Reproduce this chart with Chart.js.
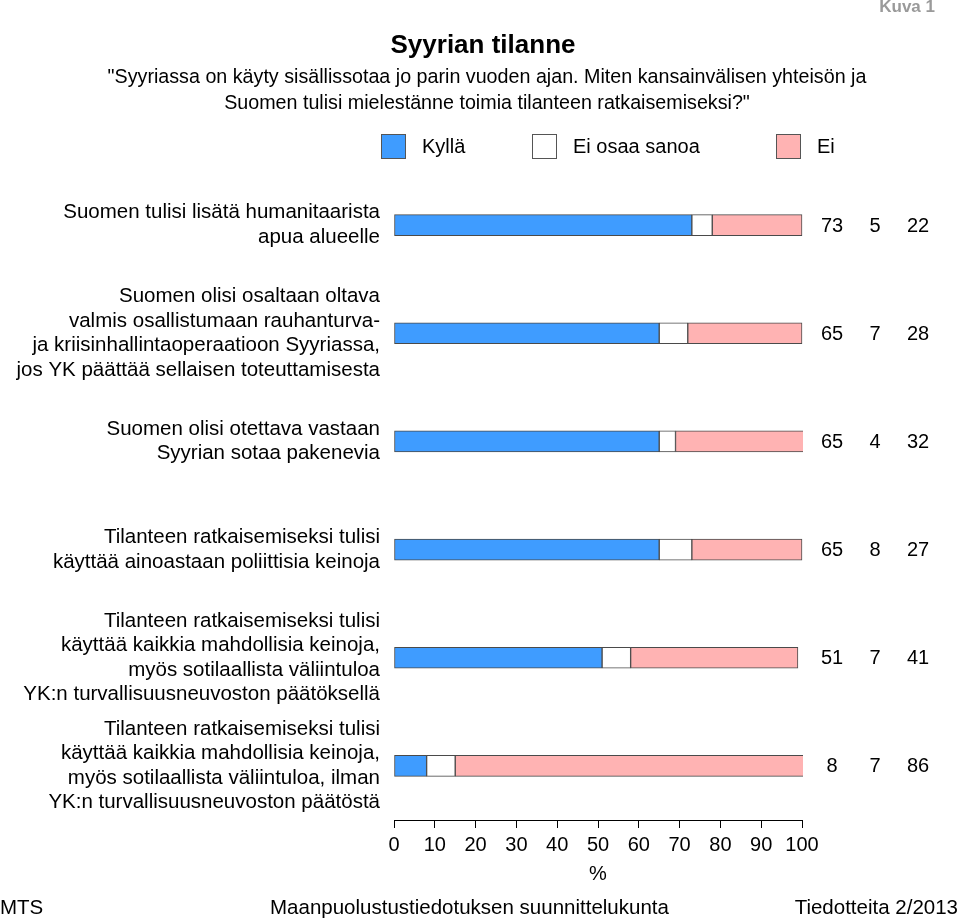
<!DOCTYPE html>
<html>
<head>
<meta charset="utf-8">
<script src="https://cdn.jsdelivr.net/npm/chart.js@4.4.0/dist/chart.umd.min.js"></script>
<style>
  html, body { margin: 0; padding: 0; background: #fff; }
  #wrap { position: relative; width: 960px; height: 920px; overflow: hidden; }
  #chart { position: absolute; left: 0; top: 0; }
  .narrow { position: absolute; white-space: nowrap; color: #000;
    font-family: "Liberation Sans Narrow", "Arial Narrow", "Liberation Sans", Arial, sans-serif; }
  #kuva { right: 25px; top: -3px; font-size: 17px; line-height: 20px; font-weight: bold; color: #9a9a9a; }
  #title { left: 0; width: 966px; top: 29px; text-align: center; font-size: 26px; line-height: 30px; font-weight: bold; }
  #subtitle { left: 0; width: 974px; top: 63px; text-align: center; font-size: 19.7px; line-height: 26px; }
  .foot { top: 895px; font-size: 20.5px; line-height: 24px; }
</style>
</head>
<body>
<div id="wrap">
  <canvas id="chart" width="960" height="920"></canvas>
  <div id="kuva" class="narrow">Kuva 1</div>
  <div id="title" class="narrow">Syyrian tilanne</div>
  <div id="subtitle" class="narrow">"Syyriassa on käyty sisällissotaa jo parin vuoden ajan. Miten kansainvälisen yhteisön ja<br>Suomen tulisi mielestänne toimia tilanteen ratkaisemiseksi?"</div>
  <div class="narrow foot" style="left:0">MTS</div>
  <div class="narrow foot" style="left:270px">Maanpuolustustiedotuksen suunnittelukunta</div>
  <div class="narrow foot" style="right:2px">Tiedotteita 2/2013</div>
</div>
<script>
// kysymykset (rivit)
const categories = [
  ["Suomen tulisi lisätä humanitaarista", "apua alueelle"],
  ["Suomen olisi osaltaan oltava", "valmis osallistumaan rauhanturva-", "ja kriisinhallintaoperaatioon Syyriassa,", "jos YK päättää sellaisen toteuttamisesta"],
  ["Suomen olisi otettava vastaan", "Syyrian sotaa pakenevia"],
  ["Tilanteen ratkaisemiseksi tulisi", "käyttää ainoastaan poliittisia keinoja"],
  ["Tilanteen ratkaisemiseksi tulisi", "käyttää kaikkia mahdollisia keinoja,", "myös sotilaallista väliintuloa", "YK:n turvallisuusneuvoston päätöksellä"],
  ["Tilanteen ratkaisemiseksi tulisi", "käyttää kaikkia mahdollisia keinoja,", "myös sotilaallista väliintuloa, ilman", "YK:n turvallisuusneuvoston päätöstä"]
];
const seriesNames = ["Kyllä", "Ei osaa sanoa", "Ei"];
const kylla = [73, 65, 65, 65, 51, 8];
const eiOsaa = [5, 7, 4, 8, 7, 7];
const ei = [22, 28, 32, 27, 41, 86];
const xTicks = [0, 10, 20, 30, 40, 50, 60, 70, 80, 90, 100];

const colors = ["#3f9cff", "#ffffff", "#ffb3b3"];
const FONT = "'Liberation Sans', Arial, sans-serif";

// legend + numbers on the right, drawn on the canvas
const extras = {
  id: "extras",
  afterDraw(chart) {
    const ctx = chart.ctx;
    const area = chart.chartArea;
    const yScale = chart.scales.y;
    ctx.save();
    ctx.font = "20px " + FONT;
    ctx.textBaseline = "middle";

    // legend
    const legendX = [381, 532, 776];
    chart.data.datasets.forEach((ds, i) => {
      ctx.fillStyle = ds.backgroundColor;
      ctx.fillRect(legendX[i], 134, 24, 24);
      ctx.strokeStyle = "#555";
      ctx.lineWidth = 1;
      ctx.strokeRect(legendX[i] + 0.5, 134.5, 24, 24);
      ctx.fillStyle = "#000";
      ctx.textAlign = "left";
      ctx.fillText(ds.label, legendX[i] + 41, 147);
    });

    // values
    ctx.textAlign = "center";
    categories.forEach((c, i) => {
      const y = yScale.getPixelForValue(i);
      chart.data.datasets.forEach((ds, j) => {
        ctx.fillText(String(ds.data[i]), area.right + 30 + j * 43, y + 1);
      });
    });
    ctx.restore();
  }
};

new Chart(document.getElementById("chart"), {
  type: "bar",
  data: {
    labels: categories,
    datasets: [kylla, eiOsaa, ei].map((d, i) => ({
      label: seriesNames[i],
      data: d,
      backgroundColor: colors[i],
      borderColor: "#4a4a4a",
      borderWidth: 1,
      borderSkipped: false,
      barThickness: 21,
      clip: { left: 1, right: 1, top: false, bottom: false }
    }))
  },
  options: {
    indexAxis: "y",
    responsive: false,
    animation: false,
    layout: { padding: { top: 171, right: 158, bottom: 0, left: 0 } },
    plugins: { legend: { display: false }, tooltip: { enabled: false } },
    scales: {
      x: {
        stacked: true,
        min: 0,
        max: 100,
        afterBuildTicks: (s) => { s.ticks = xTicks.map(v => ({ value: v })); },
        afterFit: (s) => { s.height = 100; },
        grid: { drawOnChartArea: false, drawTicks: true, tickLength: 8, color: "#000" },
        border: { display: true, color: "#000", width: 1 },
        ticks: { color: "#000", font: { family: FONT, size: 20 }, padding: 5, maxRotation: 0, autoSkip: false },
        title: { display: true, text: "%", color: "#000", font: { family: FONT, size: 20 }, padding: { top: 2, bottom: 34 } }
      },
      y: {
        stacked: true,
        afterFit: (s) => { s.width = 394; },
        grid: { display: false, drawTicks: false },
        border: { display: false },
        ticks: { color: "#000", font: { family: FONT, size: 20.5, lineHeight: 1.2 }, padding: 14, autoSkip: false }
      }
    }
  },
  plugins: [extras]
});
</script>
</body>
</html>
